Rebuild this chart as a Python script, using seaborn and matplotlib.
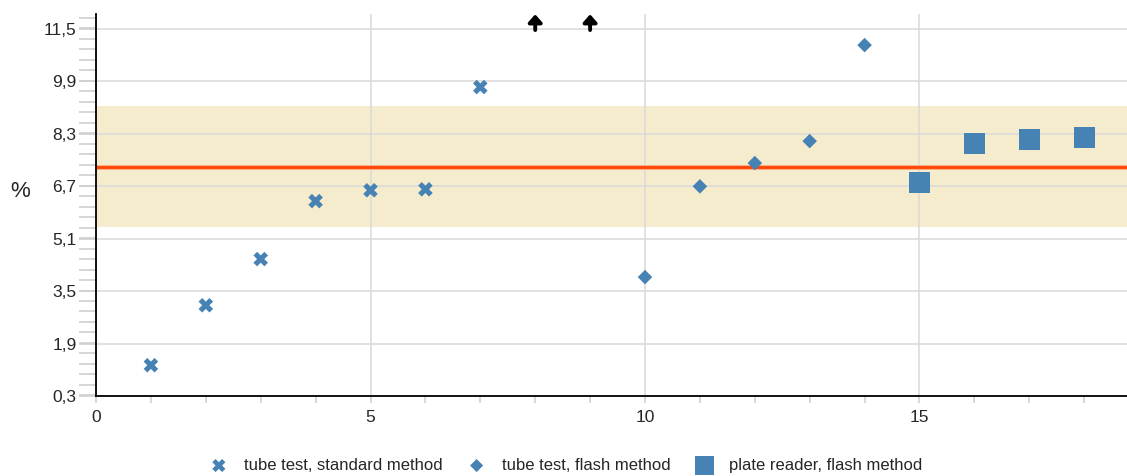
import numpy as np
import pandas as pd
import matplotlib
matplotlib.use("Agg")
import matplotlib.pyplot as plt
import seaborn as sns
from matplotlib.ticker import MultipleLocator, FixedLocator, FuncFormatter

# Measurements per sample
std_x = [1, 2, 3, 4, 5, 6, 7]
std_y = [1.24, 3.07, 4.48, 6.25, 6.58, 6.61, 9.73]
flash_x = [10, 11, 12, 13, 14]
flash_y = [3.93, 6.70, 7.41, 8.08, 11.01]
plate_x = [15, 16, 17, 18]
plate_y = [6.83, 8.02, 8.14, 8.20]
offscale_x = [8, 9]          # values above the plotted range

series_names = ["tube test, standard method",
                "tube test, flash method",
                "plate reader, flash method"]

target_mean = 7.3
target_low = 5.45
target_high = 9.15

y_ticks = [0.3, 1.9, 3.5, 5.1, 6.7, 8.3, 9.9, 11.5]
x_ticks = [0, 5, 10, 15]

df = pd.DataFrame({
    "sample": std_x + flash_x + plate_x,
    "value": std_y + flash_y + plate_y,
    "method": [series_names[0]] * len(std_x)
              + [series_names[1]] * len(flash_x)
              + [series_names[2]] * len(plate_x),
})

sns.set_style("white")
plt.rcParams["font.family"] = ["Liberation Sans", "DejaVu Sans"]

fig = plt.figure(figsize=(11.27, 4.76), dpi=100)
ax = fig.add_axes([0.0852, 0.168, 0.9148, 0.8026])

ax.set_xlim(0, 18.78)
ax.set_ylim(0.3, 11.96)

# tolerance band and target line
ax.axhspan(target_low, target_high, color="#f5ebcd", zorder=0, lw=0)
ax.axhline(target_mean, color="#ffa27c", lw=3.4, zorder=1.4)
ax.axhline(target_mean, color="#ff4500", lw=2.0, zorder=1.5)

blue = "#4682b4"
markers = {series_names[0]: "X", series_names[1]: "D", series_names[2]: "s"}
sizes = {series_names[0]: 110, series_names[1]: 55, series_names[2]: 230}
for name in series_names:
    sub = df[df["method"] == name]
    sns.scatterplot(data=sub, x="sample", y="value", marker=markers[name],
                    s=sizes[name], color=blue, edgecolor="none", ax=ax,
                    zorder=3, label=name, legend=False)

# arrows for samples above the range
for xv in offscale_x:
    ax.annotate("", xy=(xv, 11.95), xytext=(xv, 11.47),
                arrowprops=dict(arrowstyle="-|>,head_width=0.4,head_length=0.45",
                                color="black", lw=2.8, shrinkA=0, shrinkB=0),
                zorder=4, annotation_clip=False)

ax.yaxis.set_major_locator(FixedLocator(y_ticks))
ax.yaxis.set_minor_locator(MultipleLocator(0.32))
ax.yaxis.set_major_formatter(FuncFormatter(lambda v, p: f"{v:.1f}".replace(".", ",")))
ax.xaxis.set_major_locator(FixedLocator(x_ticks))
ax.xaxis.set_minor_locator(MultipleLocator(1))

ax.grid(True, which="major", color="#d9d9d9", lw=1.1, zorder=0.5)
ax.set_axisbelow(True)

for side in ["top", "right"]:
    ax.spines[side].set_visible(False)
for side in ["left", "bottom"]:
    ax.spines[side].set_color("black")
    ax.spines[side].set_linewidth(1.3)

ax.tick_params(axis="y", which="both", direction="out", length=12, width=1.2,
               color="#d0d0d0", labelsize=12.5, pad=2, left=True)
ax.tick_params(axis="x", which="both", direction="out", length=5, width=1.2,
               color="#d0d0d0", labelsize=12.5, pad=5, bottom=True)

ax.set_xlabel("")
ax.set_ylabel("%", fontsize=16, rotation=0, va="center", ha="center")
ax.yaxis.set_label_coords(-0.074, 0.535)

handles, labels = ax.get_legend_handles_labels()
leg = fig.legend(handles, labels, loc="lower center", bbox_to_anchor=(0.502, -0.025),
                 ncol=3, frameon=False, fontsize=12, handlelength=1.2,
                 handletextpad=0.9, columnspacing=1.45, markerscale=0.9)

fig.savefig("out.png", dpi=100)
